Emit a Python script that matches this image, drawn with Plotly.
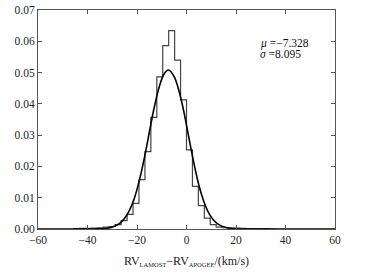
import plotly.graph_objects as go

# Histogram (density), bins of width 2.4 starting at -45.6
bin_start = -45.6
bin_width = 2.4
densities = [0.0001, 0.0002, 0.0002, 0.0003, 0.0004, 0.0006, 0.0008,
             0.0014, 0.0027, 0.0047, 0.0082, 0.0158, 0.0247, 0.0357, 0.0486,
             0.0586, 0.0634, 0.0540, 0.0413, 0.0253, 0.0136, 0.0075, 0.0035,
             0.0014, 0.0006, 0.0004, 0.0003, 0.0003, 0.0002, 0.0001, 0.0001,
             0.0001, 0.0001, 0.0000]
# Fitted curve
curve_x = [-60, -45, -37, -33, -30, -27, -25, -23, -21, -19, -17, -15, -13, -11,
           -9, -7.3, -5, -3, -1, 1, 3, 5, 7, 9, 11, 13, 16, 20, 25, 30, 45, 60]
curve_y = [0.0, 0.0, 0.00002, 0.00017, 0.0006, 0.0018, 0.0034, 0.0060, 0.0100,
           0.0157, 0.0228, 0.0310, 0.0390, 0.0455, 0.0496, 0.0508, 0.0487,
           0.0440, 0.0372, 0.0290, 0.0210, 0.0140, 0.0088, 0.0051, 0.0028,
           0.0014, 0.0005, 0.00008, 0.0, 0.0, 0.0, 0.0]
mu_text = "−7.328"
sigma_text = "8.095"
x_ticks = [-60, -40, -20, 0, 20, 40, 60]
y_ticks = [0, 0.01, 0.02, 0.03, 0.04, 0.05, 0.06, 0.07]

edges = [round(bin_start + i * bin_width, 4) for i in range(len(densities) + 1)]
step_x = [edges[0]] + edges + [edges[-1]]
step_y = [0] + densities + [densities[-1], 0]

fig = go.Figure()
fig.add_trace(go.Scatter(x=step_x, y=step_y, mode="lines", line_shape="hv",
                         line=dict(color="#444444", width=1.2), hoverinfo="skip"))
fig.add_trace(go.Scatter(x=curve_x, y=curve_y, mode="lines", line_shape="spline",
                         line=dict(color="black", width=1.6), hoverinfo="skip"))

font = "Liberation Serif, Times New Roman, serif"
axis_common = dict(showline=True, linecolor="#555555", linewidth=1, mirror="ticks",
                   ticks="inside", ticklen=4, tickcolor="#555555", showgrid=False,
                   zeroline=False, automargin=False,
                   tickfont=dict(family=font, size=11.5, color="#222"))
sub = '<sub><span style="font-size:6.5px">{}</span></sub>'
fig.update_layout(
    width=366, height=273,
    margin=dict(l=38, r=31, t=10, b=44),
    paper_bgcolor="white", plot_bgcolor="white",
    showlegend=False,
    xaxis=dict(range=[-60, 60], tickvals=x_ticks,
               ticktext=[("−" + str(-v)) if v < 0 else str(v) for v in x_ticks],
               title=dict(text="RV" + sub.format("LAMOST") + "−RV" + sub.format("APOGEE") + "/(km/s)",
                          font=dict(family=font, size=12, color="#222"), standoff=11),
               **axis_common),
    yaxis=dict(range=[0, 0.07], tickvals=y_ticks,
               ticktext=[f"{v:.2f}" for v in y_ticks], **axis_common),
)
fig.add_annotation(xref="paper", yref="paper", x=0.74, y=0.848, xanchor="left",
                   yanchor="middle", showarrow=False,
                   text="<i>μ</i> =" + mu_text,
                   font=dict(family=font, size=11.5, color="#111"))
fig.add_annotation(xref="paper", yref="paper", x=0.74, y=0.80, xanchor="left",
                   yanchor="middle", showarrow=False,
                   text="<i>σ</i> =" + sigma_text,
                   font=dict(family=font, size=11.5, color="#111"))
fig.write_html("out.html", config={"displayModeBar": False},
               post_script="document.body.style.margin='0px';")
